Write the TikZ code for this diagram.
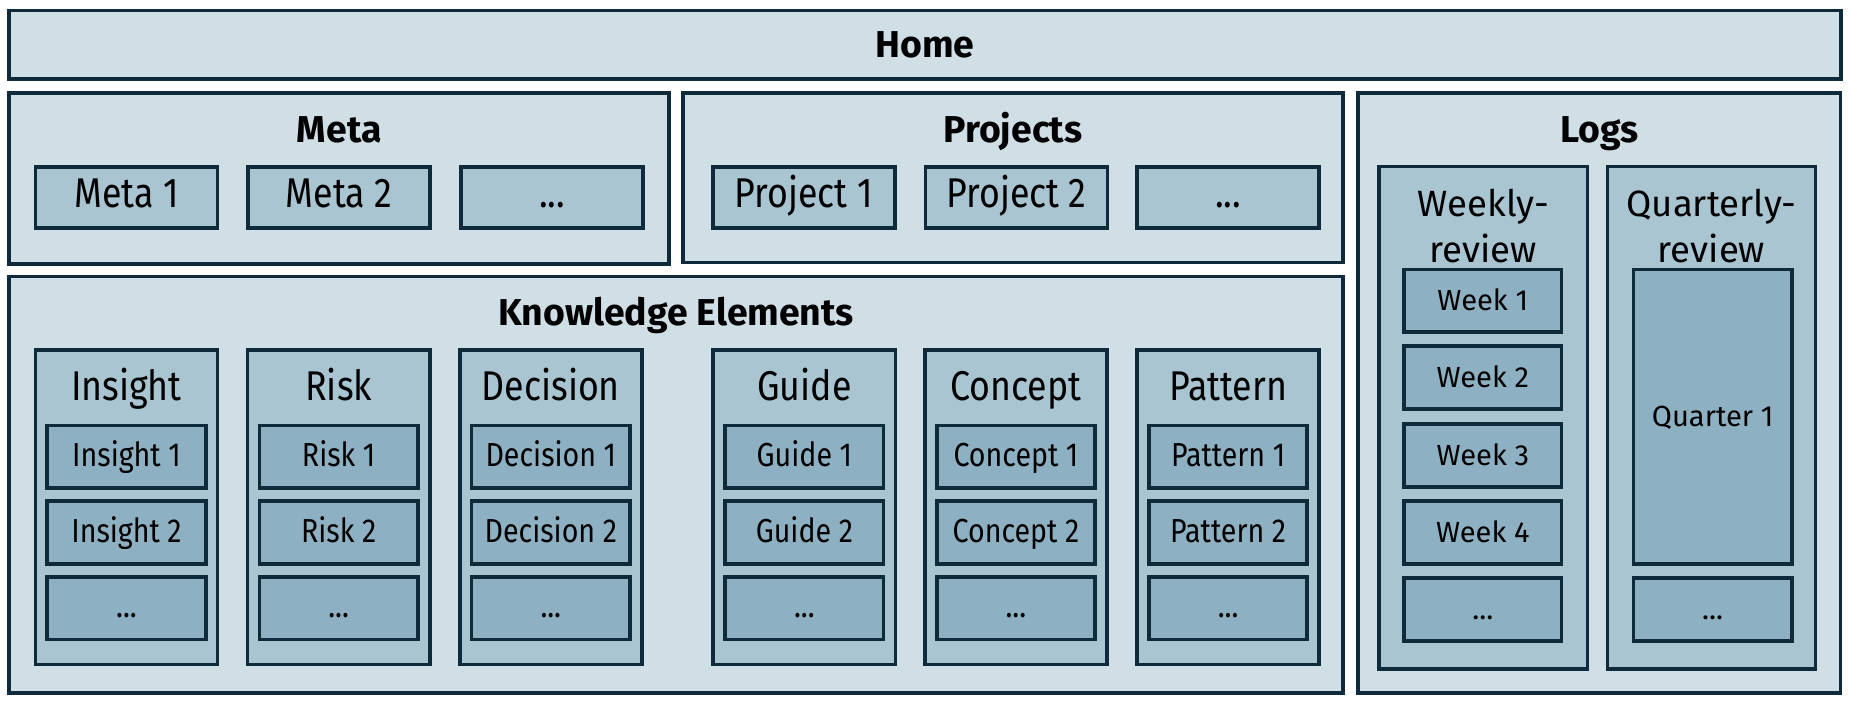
\documentclass[tikz,border=0pt]{standalone}
\usepackage{fontspec}
\setmainfont{Fira Sans}
\newfontfamily\narrowfont[FakeStretch=0.86]{Fira Sans}
\usetikzlibrary{positioning}
\definecolor{edge}{HTML}{0E2A3B}
\definecolor{pale}{HTML}{D0DEE5}
\definecolor{mid}{HTML}{A9C5D1}
\definecolor{deep}{HTML}{8DB0C2}
\newcommand{\etc}{...}

\begin{document}
\begin{tikzpicture}[x=0.01cm, y=-0.01cm,
    box/.style = {draw=edge, line width=0.9pt, inner sep=0pt, text height=1.45ex, text depth=0.55ex},
    group/.style = {box, fill=pale},
    column/.style = {box, fill=mid, minimum width=1.54cm, minimum height=2.66cm},
    item/.style = {box, fill=mid, minimum width=1.54cm, minimum height=0.52cm,
      font=\narrowfont\fontsize{10}{11}\selectfont},
    leaf/.style = {box, fill=deep, minimum width=1.34cm, minimum height=0.53cm,
      font=\narrowfont\fontsize{8}{9}\selectfont},
    heading/.style = {font=\fontsize{9}{10}\selectfont\bfseries, text height=1.45ex, text depth=0.3ex},
    sub/.style = {font=\narrowfont\fontsize{10}{11}\selectfont, text height=1.45ex, text depth=0.3ex}]
    \useasboundingbox (0,0) rectangle (1566,597);

    % top bar
    \node [group, minimum width=15.49cm, minimum height=0.58cm, heading] (home) at (782.5,38) {Home};

    % meta and projects
    \node [group, minimum width=5.58cm, minimum height=1.44cm] (meta) at (287,151) {};
    \node [heading] (metatitle) at (287,110) {Meta};
    \foreach \x/\n [count=\i] in {107/Meta 1, 287/Meta 2, 467/\etc}
      \node [item] (meta\i) at (\x,167) {\n};

    \node [group, minimum width=5.58cm, minimum height=1.43cm] (projects) at (857,150.5) {};
    \node [heading] (projtitle) at (857,110) {Projects};
    \foreach \x/\n [count=\i] in {680/Project 1, 860/Project 2, 1039/\etc}
      \node [item] (proj\i) at (\x,167) {\n};

    % knowledge elements
    \node [group, minimum width=11.28cm, minimum height=3.52cm] (knowledge) at (572,410) {};
    \node [heading] (ketitle) at (572,265) {Knowledge Elements};
    \foreach \x/\n in {107/Insight, 286.5/Risk, 466/Decision, 680.5/Guide, 859.5/Concept, 1039/Pattern} {
      \node [column] (\n) at (\x,429) {};
      \node [sub] (\n title) at (\x,328) {\n};
      \node [leaf] (\n1) at (\x,386.5) {\n\ 1};
      \node [leaf] (\n2) at (\x,450.5) {\n\ 2};
      \node [leaf] (\n3) at (\x,514.5) {\etc};
    }

    % logs
    \node [group, minimum width=4.08cm, minimum height=5.07cm] (logs) at (1353,332.5) {};
    \node [heading] (logstitle) at (1353,110) {Logs};
    \node [column, minimum width=1.76cm, minimum height=4.25cm] (weekly) at (1255,353.5) {};
    \node [column, minimum width=1.76cm, minimum height=4.25cm] (quarterly) at (1448,353.5) {};
    \node [align=center, font=\fontsize{8.8}{11}\selectfont] (weeklytitle) at (1255,191) {Weekly-\\review};
    \node [align=center, font=\fontsize{8.8}{11}\selectfont] (quartertitle) at (1448,191) {Quarterly-\\review};
    \foreach \y [count=\i] in {254.5, 319.5, 385.5, 450.5}
      \node [leaf, minimum width=1.33cm, font=\fontsize{7}{8}\selectfont] (week\i) at (1254.5,\y) {Week \i};
    \node [leaf, minimum width=1.33cm, font=\fontsize{7}{8}\selectfont] (week5) at (1254.5,515.5) {\etc};
    \node [leaf, minimum height=2.49cm, font=\fontsize{7}{8}\selectfont] (quarter1) at (1449,352.5) {Quarter 1};
    \node [leaf, font=\fontsize{7}{8}\selectfont] (quarter2) at (1449,515.5) {\etc};
  \end{tikzpicture}
\end{document}
